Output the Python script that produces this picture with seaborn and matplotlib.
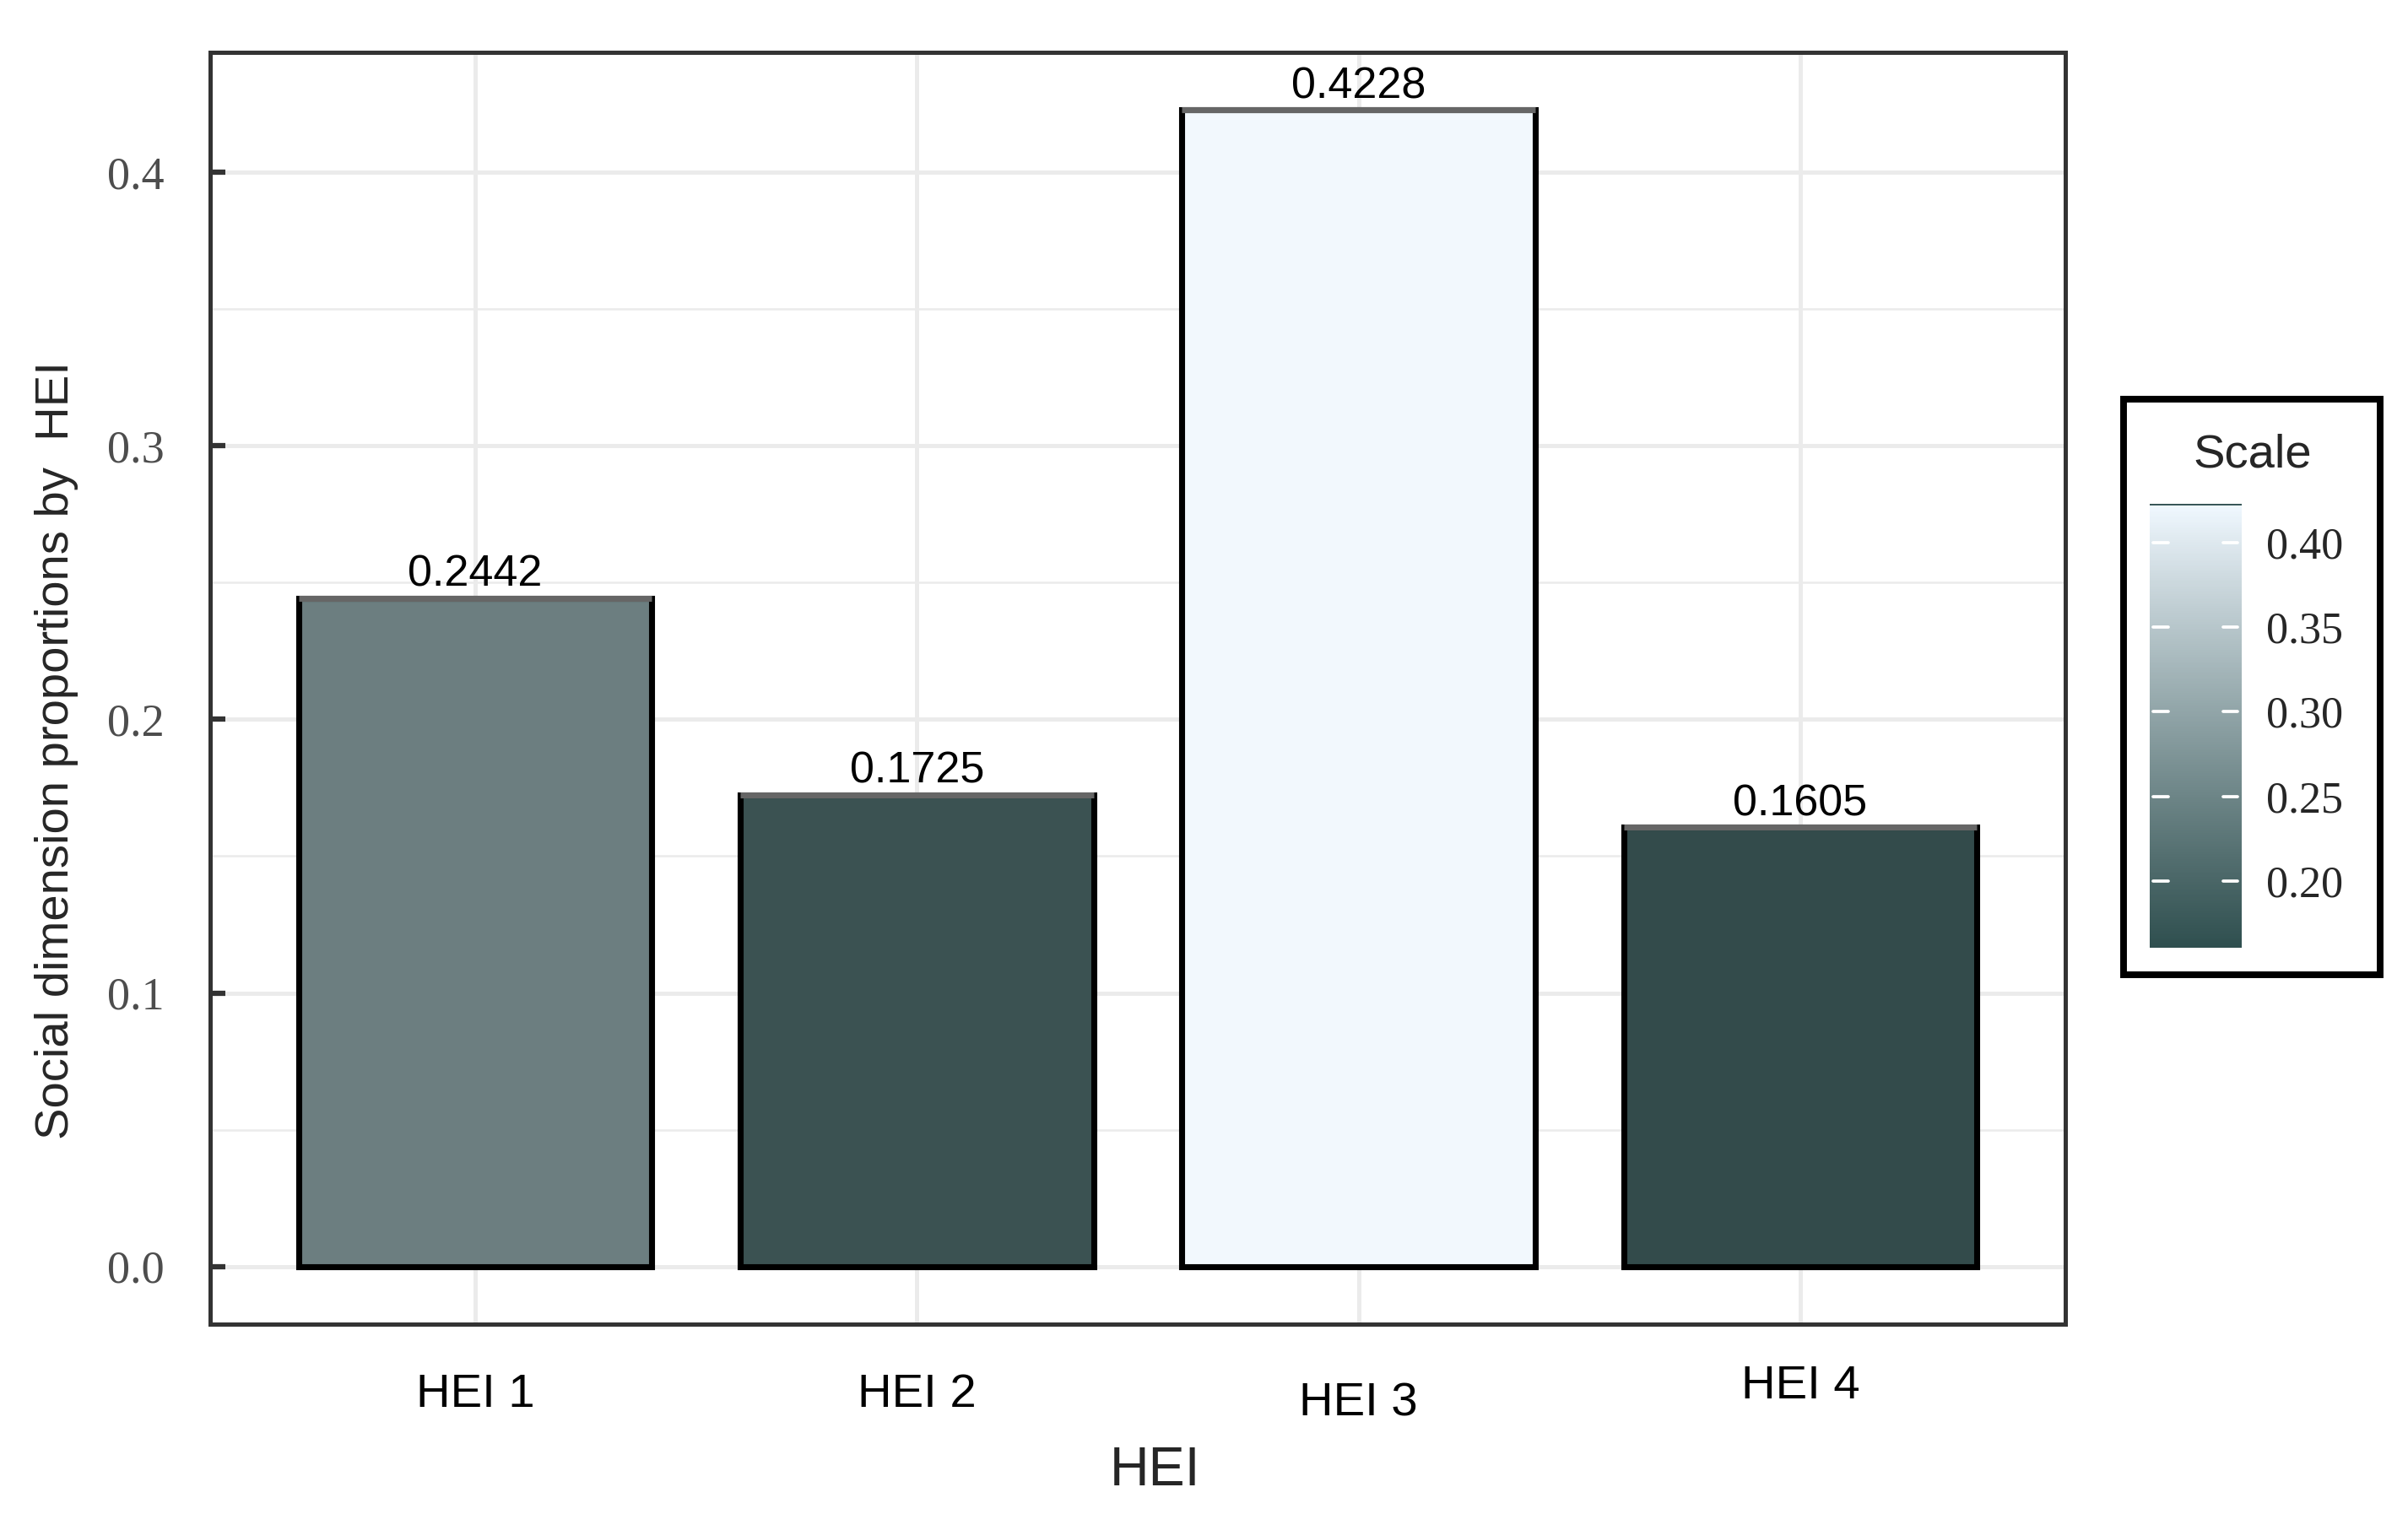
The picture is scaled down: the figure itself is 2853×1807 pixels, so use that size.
import numpy as np
import pandas as pd
import matplotlib
matplotlib.use("Agg")
import matplotlib.pyplot as plt
import matplotlib.transforms as mtransforms
from matplotlib.colors import ListedColormap, Normalize, to_rgb
from matplotlib.patches import Rectangle
import seaborn as sns

# data
hei = ['HEI 1', 'HEI 2', 'HEI 3', 'HEI 4']
proportions = [0.2442, 0.1725, 0.4228, 0.1605]
value_labels = ['0.2442', '0.1725', '0.4228', '0.1605']
y_ticks = [0.0, 0.1, 0.2, 0.3, 0.4]
y_minor = [0.05, 0.15, 0.25, 0.35]
scale_ticks = [0.20, 0.25, 0.30, 0.35, 0.40]
# vertical nudge of each x tick label in points (labels are not aligned in the original)
label_nudge = [0, 0, -2.5, 2.5]

LOW, HIGH = '#2F4F4F', '#F0F8FF'


def srgb_to_lab(c):
    c = np.asarray(c, dtype=float)
    lin = np.where(c <= 0.04045, c / 12.92, ((c + 0.055) / 1.055) ** 2.4)
    m = np.array([[0.4124, 0.3576, 0.1805],
                  [0.2126, 0.7152, 0.0722],
                  [0.0193, 0.1192, 0.9505]])
    xyz = m @ lin / np.array([0.95047, 1.0, 1.08883])
    f = np.where(xyz > 0.008856, np.cbrt(xyz), 7.787 * xyz + 16 / 116)
    return np.array([116 * f[1] - 16, 500 * (f[0] - f[1]), 200 * (f[1] - f[2])])


def lab_to_srgb(lab):
    L, a, b = lab
    fy = (L + 16) / 116
    fx = fy + a / 500
    fz = fy - b / 200
    f = np.array([fx, fy, fz])
    xyz = np.where(f ** 3 > 0.008856, f ** 3, (f - 16 / 116) / 7.787)
    xyz = xyz * np.array([0.95047, 1.0, 1.08883])
    m = np.array([[3.2406, -1.5372, -0.4986],
                  [-0.9689, 1.8758, 0.0415],
                  [0.0557, -0.2040, 1.0570]])
    lin = m @ xyz
    c = np.where(lin <= 0.0031308, 12.92 * lin, 1.055 * np.clip(lin, 0, None) ** (1 / 2.4) - 0.055)
    return np.clip(c, 0, 1)


lab_lo, lab_hi = srgb_to_lab(to_rgb(LOW)), srgb_to_lab(to_rgb(HIGH))
cmap = ListedColormap([lab_to_srgb(lab_lo + t * (lab_hi - lab_lo)) for t in np.linspace(0, 1, 256)])
norm = Normalize(min(proportions), max(proportions))
bar_colors = [cmap(norm(v)) for v in proportions]

sns.set_style('white')
plt.rcParams['font.family'] = ['Liberation Sans', 'DejaVu Sans']

df = pd.DataFrame({'HEI': hei, 'value': proportions})

fig = plt.figure(figsize=(2853 / 300, 1807 / 300), dpi=300)
ax = fig.add_axes([0.0873, 0.1317, 0.8577 - 0.0873, 0.9657 - 0.1317])

sns.barplot(data=df, x='HEI', y='value', hue='HEI', palette=dict(zip(hei, bar_colors)),
            legend=False, width=0.8, edgecolor='black', linewidth=1.7, ax=ax, zorder=3)

xpos = np.arange(len(hei))
ax.hlines(proportions, xpos - 0.4, xpos + 0.4, color='#666666', linewidth=1.7, zorder=4)
for x, v, lab in zip(xpos, proportions, value_labels):
    ax.text(x, v + 0.001, lab, ha='center', va='bottom', fontsize=12.5, color='black', zorder=5)

# grid
for t in y_ticks:
    ax.axhline(t, color='#EBEBEB', linewidth=1.2, zorder=0)
for t in y_minor:
    ax.axhline(t, color='#EBEBEB', linewidth=0.6, zorder=0)
for x in xpos:
    ax.axvline(x, color='#EBEBEB', linewidth=1.2, zorder=0)

ax.set_xlim(-0.6, 3.6)
ax.set_ylim(-0.0211, 0.4439)
ax.set_yticks(y_ticks)
ax.set_yticklabels([f'{t:.1f}' for t in y_ticks], family='Liberation Serif', fontsize=13, color='#4D4D4D')
ax.tick_params(axis='y', direction='in', length=4.4, width=1.5, color='#333333', pad=13, left=True)
ax.tick_params(axis='x', length=0, pad=14, labelsize=13.5, labelcolor='black')
for lbl, dy in zip(ax.get_xticklabels(), label_nudge):
    lbl.set_transform(lbl.get_transform() + mtransforms.ScaledTranslation(0, dy / 72, fig.dpi_scale_trans))

for s in ax.spines.values():
    s.set_color('#333333')
    s.set_linewidth(1.2)

ax.set_xlabel('')
ax.set_ylabel('')
fig.text(1368 / 2853, 1 - 1743 / 1807, 'HEI', ha='center', va='center', fontsize=15.5)
fig.text(67 / 2853, 1 - 889 / 1807, 'Social dimension proportions by  HEI', rotation=90,
         ha='center', va='center', fontsize=13.5)

# colour bar legend
fig.patches.append(Rectangle((0.8819, 0.3608), 0.9884 - 0.8819, 0.7382 - 0.3608, transform=fig.transFigure,
                             facecolor='white', edgecolor='black', linewidth=1.9, zorder=-1))
fig.text(0.9355, 0.7012, 'Scale', ha='center', va='center', fontsize=13.5)
cax = fig.add_axes([0.8927, 0.3785, 0.9309 - 0.8927, 0.6696 - 0.3785])
cb = fig.colorbar(plt.cm.ScalarMappable(norm=norm, cmap=cmap), cax=cax)
cb.outline.set_visible(False)
cb.set_ticks(scale_ticks)
cb.set_ticklabels([f'{t:.2f}' for t in scale_ticks])
cax.tick_params(length=0, pad=7)
for lbl in cax.get_yticklabels():
    lbl.set_family('Liberation Serif')
    lbl.set_fontsize(12.5)
for t in scale_ticks:
    cax.axhline(t, xmin=0.04, xmax=0.2, color='white', linewidth=0.9)
    cax.axhline(t, xmin=0.8, xmax=0.96, color='white', linewidth=0.9)
cax.axhline(max(proportions), color=LOW, linewidth=0.9)

fig.savefig('out.png', dpi=300)
